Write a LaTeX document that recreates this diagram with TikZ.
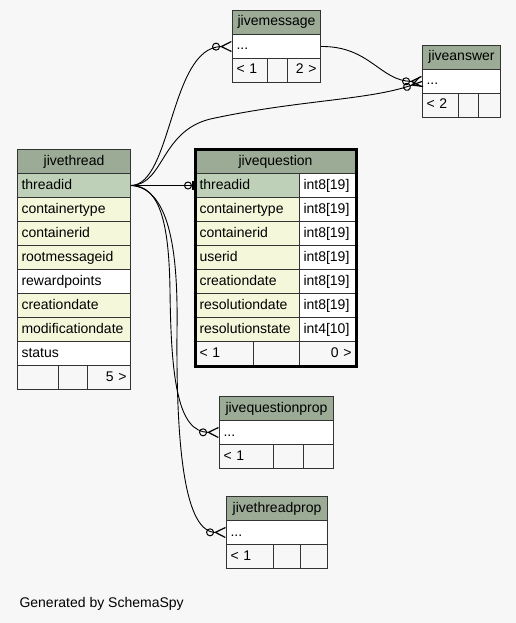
\documentclass[tikz,border=0pt]{standalone}
\usepackage{fontspec}
\setmainfont{Liberation Sans}
\usepackage{tikz}
\usetikzlibrary{arrows.meta}
\usetikzlibrary{decorations.markings}

\definecolor{bgcol}{HTML}{F7F7F7}
\definecolor{hdrcol}{HTML}{9BAB96}
\definecolor{pkcol}{HTML}{BED1B8}
\definecolor{idxcol}{HTML}{F4F7DA}

\tikzset{
  cell/.style={draw=black!80, line width=1pt, anchor=north west,
    minimum height=24pt, inner xsep=4pt, inner ysep=0pt,
    text height=10pt, text depth=3pt, align=left,
    font=\fontsize{14}{16}\selectfont},
  hdr/.style={cell, fill=hdrcol, align=center},
  pk/.style={cell, fill=pkcol},
  col/.style={cell, fill=idxcol},
  plain/.style={cell, fill=white},
  foot/.style={cell},
  rel/.style={line width=0.9pt},
  many/.style={rel, -{Circle[open,length=8pt,width=8pt,line width=1pt]
      Straight Barb[reversed,length=10pt,width=10pt,line width=1.2pt]},
    postaction={decorate, decoration={markings,
      mark=at position 1 with {\draw[-, line width=1.2pt] (-10pt,0) -- (0,0);}}}},
  one/.style={rel, -{Circle[open,length=8pt,width=8pt,line width=1pt]
      Rectangle[length=3pt,width=9pt]}}
}

\begin{document}
\begin{tikzpicture}[x=1pt,y=-1pt]
  \fill[bgcol] (0,0) rectangle (516,623);
  \useasboundingbox (0,0) rectangle (516,623);

  % jivethread
  \node[hdr, text width=105pt] (thread-hdr) at (17,149) {jivethread};
  \foreach \name/\kind [count=\i from 0] in {threadid/pk, containertype/col,
      containerid/col, rootmessageid/col, rewardpoints/plain,
      creationdate/col, modificationdate/col, status/plain}
    \node[style=\kind, text width=105pt] (thread-\name) at (17,{173+24*\i}) {\name};
  \node[foot, text width=33pt] (thread-f1) at (17,365) {};
  \node[foot, text width=21pt] (thread-f2) at (58,365) {};
  \node[foot, text width=35pt, align=right] (thread-f3) at (87,365) {5 >};

  % jivequestion
  \node[hdr, text width=152pt] (question-hdr) at (195,149) {jivequestion};
  \foreach \name/\type/\kind [count=\i from 0] in {threadid/int8[19]/pk,
      containertype/int8[19]/col, containerid/int8[19]/col,
      userid/int8[19]/col, creationdate/int8[19]/col,
      resolutiondate/int8[19]/col, resolutionstate/int4[10]/col}
    {
    \node[style=\kind, text width=96pt] (question-\name) at (195,{173+24*\i}) {\name};
    \node[plain, text width=48pt] (question-\name-type) at (299,{173+24*\i}) {\type};
    }
  \node[foot, text width=50pt] (question-f1) at (195,341) {< 1};
  \node[foot, text width=38pt] (question-f2) at (253,341) {};
  \node[foot, text width=48pt, align=right] (question-f3) at (299,341) {0 >};
  \draw[line width=3pt] (question-hdr.north west) rectangle (question-f3.south east);

  % jivemessage
  \node[hdr, text width=80pt] (message-hdr) at (232,10) {jivemessage};
  \node[plain, text width=80pt] (message-row) at (232,34) {...};
  \node[foot, text width=27pt] (message-f1) at (232,58) {< 1};
  \node[foot, text width=12pt] (message-f2) at (267,58) {};
  \node[foot, text width=25pt, align=right] (message-f3) at (287,58) {2 >};

  % jiveanswer
  \node[hdr, text width=70pt] (answer-hdr) at (422,45) {jiveanswer};
  \node[plain, text width=70pt] (answer-row) at (422,69) {...};
  \node[foot, text width=28pt] (answer-f1) at (422,93) {< 2};
  \node[foot, text width=12pt] (answer-f2) at (458,93) {};
  \node[foot, text width=14pt] (answer-f3) at (478,93) {};

  % jivequestionprop
  \node[hdr, text width=106pt] (qprop-hdr) at (219,396) {jivequestionprop};
  \node[plain, text width=106pt] (qprop-row) at (219,420) {...};
  \node[foot, text width=46pt] (qprop-f1) at (219,444) {< 1};
  \node[foot, text width=22pt] (qprop-f2) at (273,444) {};
  \node[foot, text width=22pt] (qprop-f3) at (303,444) {};

  % jivethreadprop
  \node[hdr, text width=93pt] (tprop-hdr) at (226,496) {jivethreadprop};
  \node[plain, text width=93pt] (tprop-row) at (226,520) {...};
  \node[foot, text width=39pt] (tprop-f1) at (226,544) {< 1};
  \node[foot, text width=19pt] (tprop-f2) at (273,544) {};
  \node[foot, text width=19pt] (tprop-f3) at (300,544) {};

  % relations
  \draw[one] (thread-threadid.east) -- (question-threadid.west);
  \draw[many] (thread-threadid.east)
    .. controls (172,185) and (170,47) .. (message-row.west);
  \draw[many] (thread-threadid.east)
    .. controls (165,185) and (160,128) .. (215,118)
    .. controls (300,100) and (370,100) .. (answer-row.west);
  \draw[many] (message-row.east)
    .. controls (370,46) and (380,81) .. (answer-row.west);
  \draw[many] (thread-threadid.east)
    .. controls (162,185) and (169,230) .. (170,290)
    .. controls (171,380) and (178,432) .. (qprop-row.west);
  \draw[many] (thread-threadid.east)
    .. controls (172,188) and (178,260) .. (177,330)
    .. controls (176,450) and (185,532) .. (tprop-row.west);

  \node[anchor=base west, font=\fontsize{14}{16}\selectfont] (credit) at (16,607) {Generated by SchemaSpy};
\end{tikzpicture}
\end{document}
